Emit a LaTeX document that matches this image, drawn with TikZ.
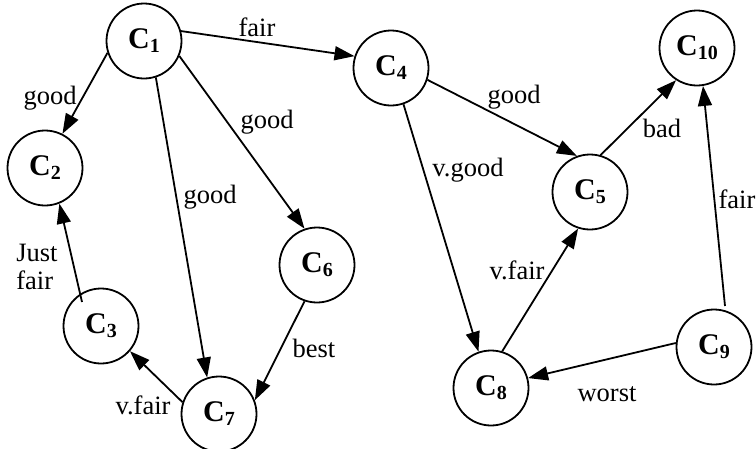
\documentclass[tikz,border=0pt]{standalone}
\usepackage{fontspec}
\setmainfont{Liberation Serif}
\usetikzlibrary{arrows.meta,calc}
\newcommand{\cname}[1]{{\fontsize{30}{30}\selectfont\bfseries C\raisebox{-4pt}{\fontsize{20}{20}\selectfont #1}}}
\begin{document}
\begin{tikzpicture}[x=1pt,y=-1pt,
  cnode/.style={circle,draw,line width=1.8pt,minimum size=75pt,inner sep=0pt},
  edge/.style={line width=1.8pt,-{Triangle[length=20pt,width=14pt]}},
  lbl/.style={font=\fontsize{26.5}{28}\selectfont,inner sep=0pt}]
\useasboundingbox (0,0) rectangle (756,448);
% nodes
\node[cnode] (C1) at (144,41) {\cname{1}};
\node[cnode] (C2) at (45,168) {\cname{2}};
\node[cnode] (C3) at (101,326) {\cname{3}};
\node[cnode] (C4) at (391,68) {\cname{4}};
\node[cnode] (C5) at (590,192) {\cname{5}};
\node[cnode] (C6) at (317,265) {\cname{6}};
\node[cnode] (C7) at (219,414) {\cname{7}};
\node[cnode] (C8) at (491,388) {\cname{8}};
\node[cnode] (C9) at (714,347) {\cname{9}};
\node[cnode] (C10) at (697,48) {\cname{10}};
\coordinate (s3) at ($(C3)+(-19,-24)$);
\coordinate (s9) at ($(C9)+(11,-41)$);
% edges
\draw[edge] (C1.-162) -- (C2.63);
\draw[edge] (C1.15) -- (C4.162);
\draw[edge] (C1.-23) -- (C6.109);
\draw[edge] (C1.-72) -- (C7.108);
\draw[edge] (s3) -- (C2.-68);
\draw[edge] (C6.-109) -- (C7.21);
\draw[edge] (C7.162) -- (C3.-41);
\draw[edge] (C4.-18) -- (C5.110);
\draw[edge] (C4.-71) -- (C8.109);
\draw[edge] (C5.74) -- (C10.-123);
\draw[edge] (s9) -- (C10.-81);
\draw[edge] (C8.73) -- (C5.-108);
\draw[edge] (C9.174) -- (C8.15);
% labels
\node[lbl] (l12) at (50,98) {good};
\node[lbl] (l14) at (257,27) {fair};
\node[lbl] (l16) at (267,122) {good};
\node[lbl] (l17) at (210,197) {good};
\node[lbl,align=left] (l32) at (37,267) {Just\\fair};
\node[lbl] (l67) at (314,348) {best};
\node[lbl] (l73) at (143,405) {v.fair};
\node[lbl] (l45) at (514,97) {good};
\node[lbl] (l48) at (468,170) {v.good};
\node[lbl] (l510) at (662,128) {bad};
\node[lbl] (l910) at (737,199) {fair};
\node[lbl] (l85) at (517,270) {v.fair};
\node[lbl] (l98) at (607,394) {worst};
\end{tikzpicture}
\end{document}
